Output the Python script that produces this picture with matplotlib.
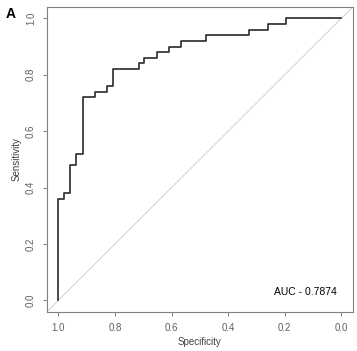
import matplotlib
matplotlib.use("Agg")
import matplotlib.pyplot as plt

plt.rcParams['font.family'] = ['Liberation Sans', 'DejaVu Sans']

# ROC curve vertices (specificity, sensitivity)
specificity = [1.0, 1.0, 0.979, 0.958, 0.936, 0.912, 0.870, 0.828, 0.807, 0.716,
               0.696, 0.652, 0.608, 0.565, 0.477, 0.327, 0.261, 0.197, 0.0]
sensitivity = [0.0, 0.36, 0.38, 0.48, 0.52, 0.72, 0.74, 0.76, 0.82, 0.84,
               0.86, 0.88, 0.90, 0.92, 0.94, 0.96, 0.98, 1.0, 1.0]
ticks = [1.0, 0.8, 0.6, 0.4, 0.2, 0.0]
tick_labels = ["1.0", "0.8", "0.6", "0.4", "0.2", "0.0"]
auc_text = "AUC - 0.7874"
panel_label = "A"

fig = plt.figure(figsize=(3.57, 3.51), dpi=100)
ax = fig.add_axes([0.1317, 0.112, 0.8563, 0.868])

ax.plot([1.04, -0.04], [-0.04, 1.04], color='#d0d0d0', lw=0.7, zorder=1)
ax.plot(specificity, sensitivity, drawstyle='steps-post', color='#2a2a2a', lw=1.2, zorder=2)

ax.set_xlim(1.04, -0.04)
ax.set_ylim(-0.04, 1.04)
ax.set_xticks(ticks)
ax.set_xticklabels(tick_labels)
ax.set_yticks(ticks)
ax.set_yticklabels(tick_labels, rotation=90, va='center')

for s in ax.spines.values():
    s.set_color('#808080')
    s.set_linewidth(0.8)
ax.tick_params(axis='both', colors='#808080', labelcolor='#606060', labelsize=7,
               length=3, width=0.7)
ax.tick_params(axis='x', pad=5)
ax.tick_params(axis='y', pad=5)

ax.set_xlabel("Specificity", fontsize=7, color='#404040', labelpad=3)
ax.set_ylabel("Sensitivity", fontsize=7, color='#404040', labelpad=3)

ax.text(0.018, 0.03, auc_text, ha='right', va='center', fontsize=7.5, color='black')
fig.text(6 / 357, 1 - 14 / 351, panel_label, fontsize=10, fontweight='bold',
         ha='left', va='center')

fig.savefig("out.png", dpi=100)
